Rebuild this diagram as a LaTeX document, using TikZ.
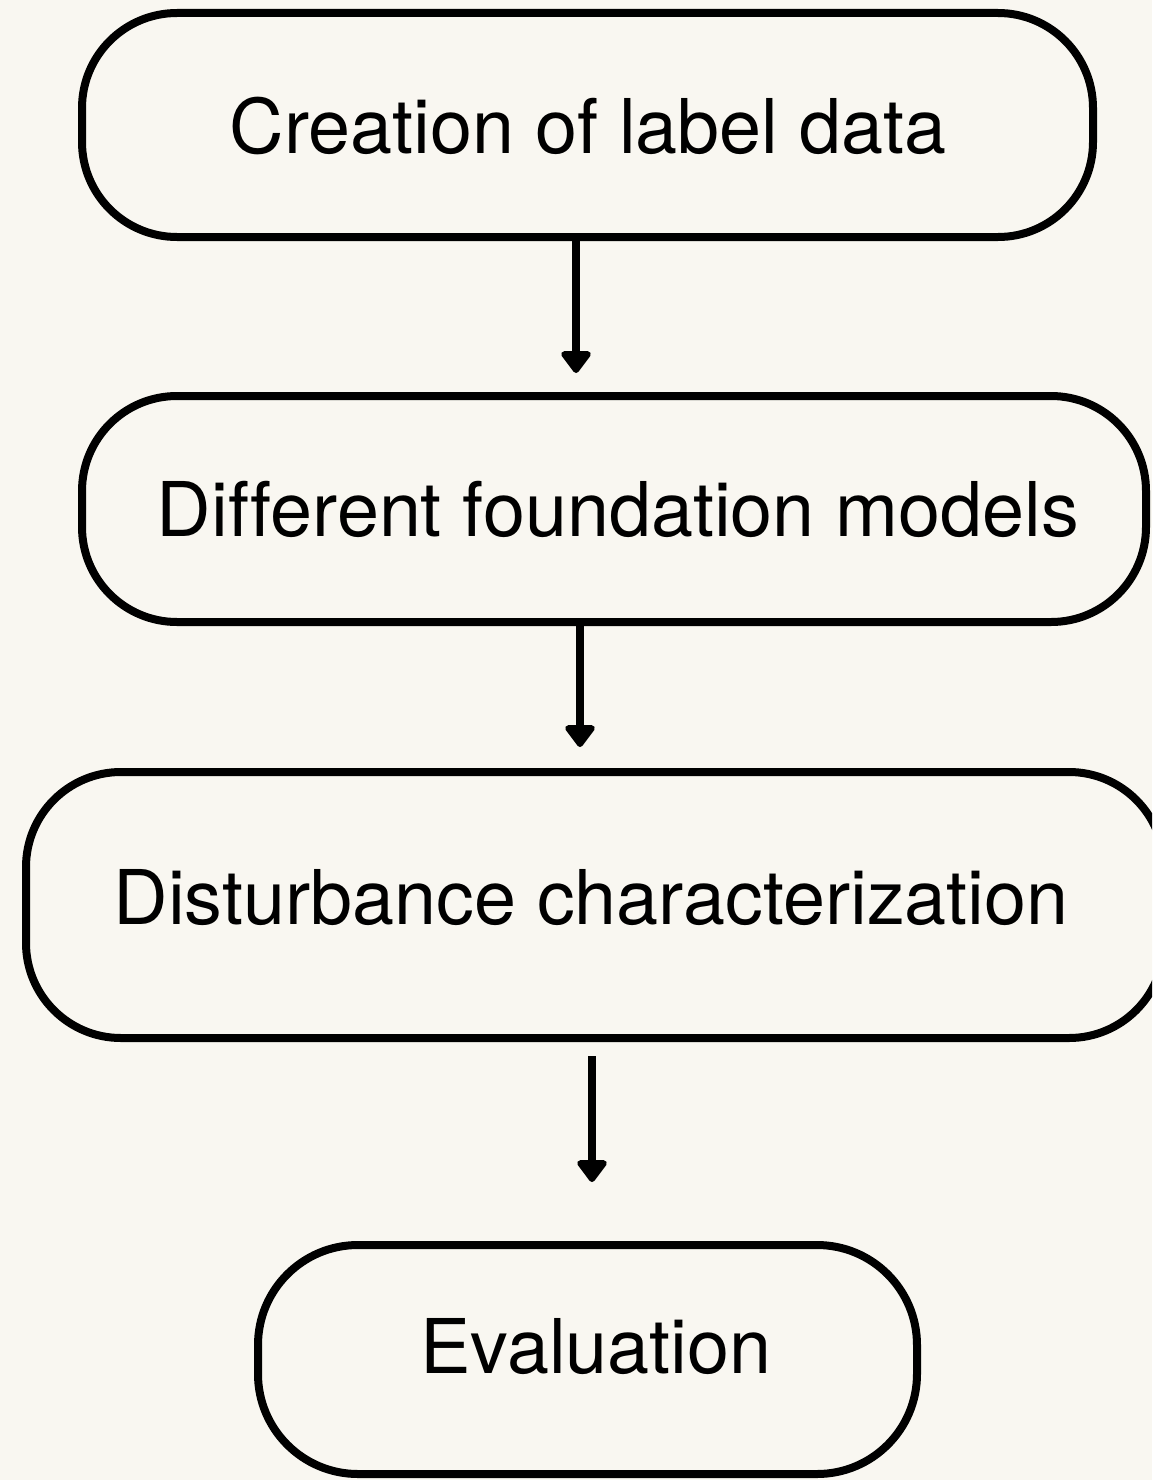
\documentclass[tikz,border=0pt]{standalone}
\usepackage{fontspec}
\setmainfont[Ligatures=NoCommon]{TeX Gyre Heros}
\usetikzlibrary{arrows.meta}
\definecolor{bg}{RGB}{249,247,241}
\tikzset{
  flowbox/.style={draw=black, line width=8pt, rounded corners=95pt, fill=bg, inner sep=0pt},
  flowtext/.style={font=\fontsize{75.5}{84}\selectfont, text=black, inner sep=0pt},
  flowarrow/.style={line width=8pt, draw=black, -{Triangle[width=34pt,length=24pt,round]}}
}
\begin{document}
\begin{tikzpicture}[x=1pt,y=-1pt]
\fill[bg] (0,0) rectangle (1152,1480);
\useasboundingbox (0,0) rectangle (1152,1480);
\clip (0,0) rectangle (1152,1480);
\node[flowbox, minimum width=1011pt, minimum height=224pt] (b1) at (587.5,125) {};
\node[flowbox, minimum width=1064pt, minimum height=226pt] (b2) at (614,509) {};
\node[flowbox, minimum width=1138pt, minimum height=266pt] (b3) at (595,905) {};
\node[flowbox, minimum width=659pt, minimum height=229pt, rounded corners=100pt] (b4) at (587.5,1359.5) {};
\node[flowtext] (t1) at (588,126) {Creation of label data};
\node[flowtext] (t2) at (618,509) {Different foundation models};
\node[flowtext] (t3) at (591,898) {Disturbance characterization};
\node[flowtext] (t4) at (596,1347) {Evaluation};
\coordinate (a1) at (576,0);
\coordinate (a2) at (580,0);
\coordinate (a3) at (592,0);
\draw[flowarrow, shorten >=19pt] (b1.south -| a1) -- (b2.north -| a1);
\draw[flowarrow, shorten >=21pt] (b2.south -| a2) -- (b3.north -| a2);
\draw[flowarrow, shorten <=14pt, shorten >=59pt] (b3.south -| a3) -- (b4.north -| a3);
\end{tikzpicture}
\end{document}
